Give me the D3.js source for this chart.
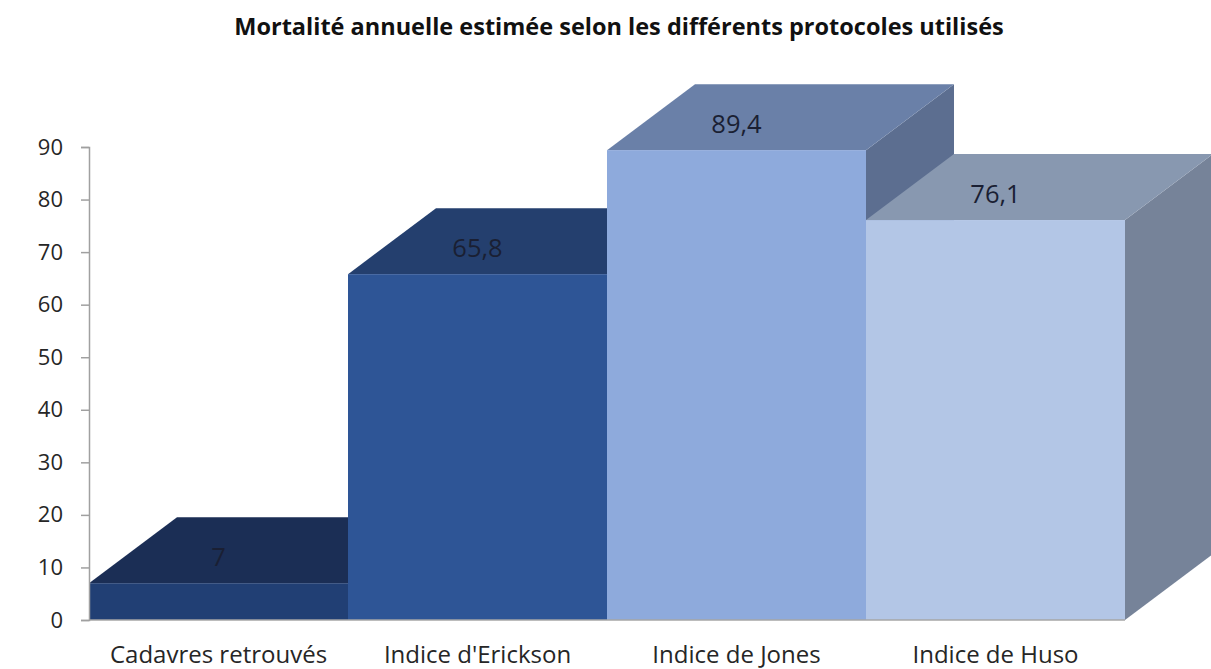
<!DOCTYPE html>
<html lang="fr">
<head>
<meta charset="utf-8">
<script src="https://cdn.jsdelivr.net/npm/d3@7"></script>
<style>
  html, body { margin: 0; padding: 0; background: #fff; }
  svg { display: block; }
</style>
</head>
<body>
<svg id="chart" width="1211" height="669"></svg>
<script>
// Mortalité annuelle estimée par protocole
const categories = ["Cadavres retrouvés", "Indice d'Erickson", "Indice de Jones", "Indice de Huso"];
const values = [7, 65.8, 89.4, 76.1];
const valueLabels = ["7", "65,8", "89,4", "76,1"];
const yTicks = [0, 10, 20, 30, 40, 50, 60, 70, 80, 90];

// Couleurs des faces : avant, dessus, côté
const frontColors = ["#213f74", "#2e5596", "#8eaadc", "#b3c6e6"];
const topColors   = ["#1b2e55", "#243f6e", "#6a80a8", "#8898b0"];
const sideColors  = ["#16264a", "#1e3560", "#5c6e90", "#768399"];

const svg = d3.select("#chart");
const W = 1211, H = 669;
const margin = { left: 89, right: 86, top: 147, bottom: 49 };
const depthX = 88, depthY = 66;
const font = "'Open Sans', 'DejaVu Sans', sans-serif";

const x = d3.scaleBand().domain(categories).range([margin.left, 1125]).padding(0);
const y = d3.scaleLinear().domain([0, 90]).range([H - margin.bottom, margin.top]);

// Titre
svg.append("text")
  .attr("x", 619).attr("y", 35)
  .attr("text-anchor", "middle")
  .attr("font-family", font)
  .attr("font-weight", "bold")
  .attr("font-size", 23.5)
  .attr("fill", "#111")
  .text("Mortalité annuelle estimée selon les différents protocoles utilisés");

// Barres 3D, de gauche à droite
const bars = svg.append("g");
categories.forEach((c, i) => {
  const x0 = x(c), x1 = x(c) + x.bandwidth();
  const yb = y(0), yt = y(values[i]);
  const g = bars.append("g");
  // face latérale
  g.append("path")
    .attr("d", `M${x1},${yt} L${x1 + depthX},${yt - depthY} L${x1 + depthX},${yb - depthY} L${x1},${yb} Z`)
    .attr("fill", sideColors[i]);
  // dessus
  g.append("path")
    .attr("d", `M${x0},${yt} L${x0 + depthX},${yt - depthY} L${x1 + depthX},${yt - depthY} L${x1},${yt} Z`)
    .attr("fill", topColors[i]);
  // face avant
  g.append("rect")
    .attr("x", x0).attr("y", yt)
    .attr("width", x1 - x0).attr("height", yb - yt)
    .attr("fill", frontColors[i]);
});

// Étiquettes de valeurs
svg.append("g").selectAll("text")
  .data(categories)
  .join("text")
  .attr("x", d => x(d) + x.bandwidth() / 2)
  .attr("y", (d, i) => y(values[i]) - 26)
  .attr("dy", "0.35em")
  .attr("text-anchor", "middle")
  .attr("font-family", font)
  .attr("font-size", 25.5)
  .attr("fill", "#1a1f33")
  .text((d, i) => valueLabels[i]);

// Ligne de base
svg.append("line")
  .attr("x1", margin.left).attr("x2", 1125)
  .attr("y1", y(0)).attr("y2", y(0))
  .attr("stroke", "#a6a6a6").attr("stroke-width", 1.5);

// Axe vertical
const yAxis = d3.axisLeft(y).tickValues(yTicks).tickSize(8).tickPadding(18).tickFormat(d3.format("d"));
const ga = svg.append("g").attr("transform", `translate(${margin.left},0)`).call(yAxis);
ga.select(".domain").attr("stroke", "#a0a0a0").attr("stroke-width", 1.5);
ga.selectAll(".tick line").attr("stroke", "#a0a0a0").attr("stroke-width", 1.5);
ga.selectAll(".tick text")
  .attr("font-family", font)
  .attr("font-size", 22)
  .attr("fill", "#262626");

// Libellés des catégories
const xAxis = d3.axisBottom(x).tickSize(0).tickPadding(26);
const gx = svg.append("g").attr("transform", `translate(0,${y(0)})`).call(xAxis);
gx.select(".domain").remove();
gx.selectAll(".tick text")
  .attr("font-family", font)
  .attr("font-size", 24)
  .attr("fill", "#262626");
</script>
</body>
</html>
